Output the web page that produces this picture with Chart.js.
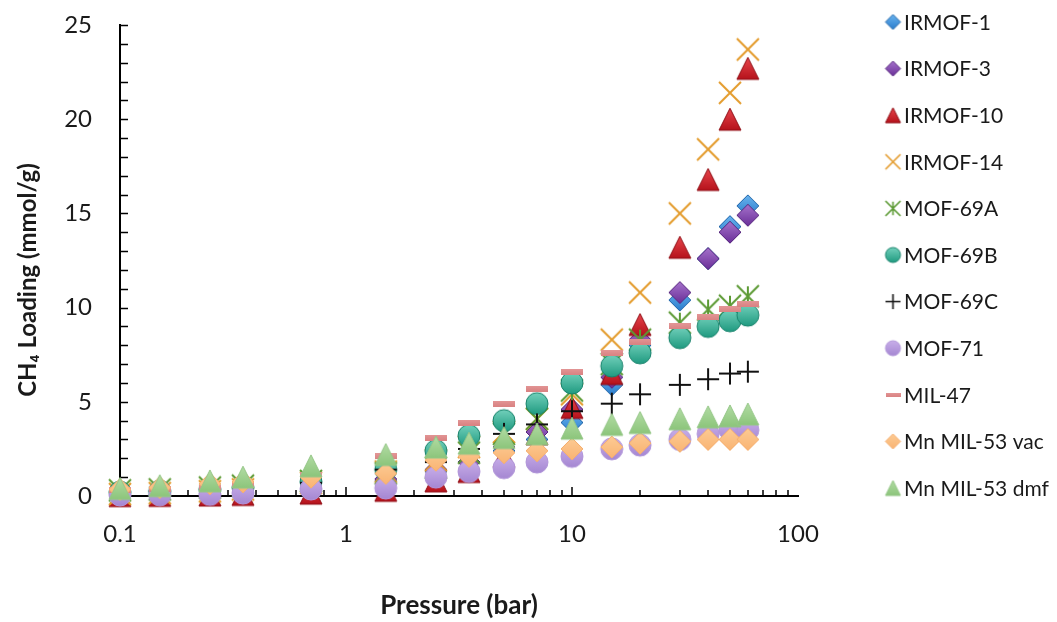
<!DOCTYPE html>
<html>
<head>
<meta charset="utf-8">
<title>CH4 loading vs pressure</title>
<script src="https://cdn.jsdelivr.net/npm/chart.js@4.4.1/dist/chart.umd.min.js"></script>
<style>
  html, body { margin: 0; padding: 0; background: #fff; }
  #wrap { width: 1057px; height: 622px; }
</style>
</head>
<body>
<div id="wrap"><canvas id="isotherms" width="1057" height="622"></canvas></div>
<script>
// pressure points (bar), shared by every material
const pressure = [0.1, 0.15, 0.25, 0.35, 0.7, 1.5, 2.5, 3.5, 5, 7, 10, 15, 20, 30, 40, 50, 60];

// CH4 loading (mmol/g) for each material
const irmof1   = [0.05, 0.08, 0.12, 0.17, 0.35, 0.8, 1.3, 1.8, 2.4, 3.0, 3.9, 5.9, 8.0, 10.4, 12.6, 14.3, 15.4];
const irmof3   = [0.05, 0.08, 0.12, 0.17, 0.4, 0.9, 1.4, 1.8, 2.6, 3.4, 4.6, 6.3, 8.3, 10.8, 12.6, 14.0, 14.9];
const irmof10  = [0.02, 0.03, 0.05, 0.08, 0.15, 0.3, 0.8, 1.3, 2.1, 3.3, 4.7, 6.5, 9.1, 13.2, 16.8, 20.0, 22.7];
const irmof14  = [0.1, 0.15, 0.25, 0.35, 0.7, 1.3, 1.9, 2.6, 3.4, 4.1, 5.4, 8.3, 10.8, 15.0, 18.4, 21.4, 23.7];
const mof69a   = [0.3, 0.35, 0.45, 0.55, 0.8, 1.2, 1.5, 2.3, 3.3, 4.1, 5.6, 7.0, 8.3, 9.2, 9.9, 10.1, 10.6];
const mof69b   = [0.2, 0.25, 0.35, 0.45, 0.75, 1.4, 2.4, 3.2, 4.0, 4.9, 6.0, 6.9, 7.6, 8.4, 9.0, 9.3, 9.6];
const mof69c   = [0.2, 0.25, 0.35, 0.45, 0.7, 1.4, 1.8, 2.5, 3.3, 3.8, 4.5, 4.9, 5.4, 5.9, 6.2, 6.5, 6.6];
const mof71    = [0.05, 0.06, 0.08, 0.15, 0.37, 0.42, 1.0, 1.3, 1.5, 1.8, 2.1, 2.5, 2.7, 3.0, 3.3, 3.5, 3.5];
const mil47    = [0.3, 0.35, 0.45, 0.6, 1.1, 2.1, 3.1, 3.9, 4.9, 5.7, 6.6, 7.6, 8.2, 9.0, 9.5, 9.9, 10.2];
const mil53vac = [0.35, 0.45, 0.65, 0.75, 1.0, 1.2, 1.9, 2.1, 2.3, 2.4, 2.5, 2.6, 2.8, 2.9, 3.0, 3.0, 3.0];
const mil53dmf = [0.4, 0.55, 0.8, 1.0, 1.6, 2.2, 2.6, 2.8, 3.1, 3.3, 3.6, 3.8, 3.9, 4.1, 4.2, 4.25, 4.35];

const seriesNames = ['IRMOF-1', 'IRMOF-3', 'IRMOF-10', 'IRMOF-14', 'MOF-69A', 'MOF-69B',
                     'MOF-69C', 'MOF-71', 'MIL-47', 'Mn MIL-53 vac', 'Mn MIL-53 dmf'];
const seriesValues = [irmof1, irmof3, irmof10, irmof14, mof69a, mof69b,
                      mof69c, mof71, mil47, mil53vac, mil53dmf];

// axis labels
const xTickValues = [0.1, 1, 10, 100];
const yTickStep = 5;
const xTitle = 'Pressure (bar)';
const yTitle = 'CH₄ Loading (mmol/g)';

const FONT = 'Lato, "Open Sans", sans-serif';

const markerStyles = [
  { shape: 'diamond',  fill: ['#6ab4ef', '#2a7ccc'], stroke: '#2266a8' },
  { shape: 'diamond',  fill: ['#a673cc', '#6a2f98'], stroke: '#56267e' },
  { shape: 'triangle', fill: ['#e8454c', '#b5121b'], stroke: '#8f0d14' },
  { shape: 'x',        stroke: '#e39b2c' },
  { shape: 'asterisk', stroke: '#5c9a34' },
  { shape: 'circle',   fill: ['#72d0bb', '#1f9a80'], stroke: '#18826b' },
  { shape: 'plus',     stroke: '#111111' },
  { shape: 'circle',   fill: ['#c8aee9', '#a587d2'], stroke: '#b196d9' },
  { shape: 'dash',     fill: ['#e39696', '#d98282'] },
  { shape: 'diamond',  fill: ['#fdcb94', '#f9b473'], stroke: '#f5ae6e' },
  { shape: 'triangle', fill: ['#b2dca4', '#8cc57b'], stroke: '#94c687' }
];

// draws an Excel-like marker on a small canvas, used as a point style image
function makeMarker(style, s) {
  const c = document.createElement('canvas');
  const pad = 2;
  const size = s + pad * 2;
  c.width = size;
  c.height = style.shape === 'dash' ? Math.round(s * 0.28) : size;
  const ctx = c.getContext('2d');
  const m = size / 2;
  const h = s / 2;

  if (style.shape === 'dash') {
    c.width = s;
    const g = ctx.createLinearGradient(0, 0, 0, c.height);
    g.addColorStop(0, style.fill[0]);
    g.addColorStop(1, style.fill[1]);
    ctx.fillStyle = g;
    ctx.fillRect(0, 0, c.width, c.height);
    return c;
  }

  ctx.lineJoin = 'round';
  if (style.fill) {
    ctx.beginPath();
    if (style.shape === 'diamond') {
      ctx.moveTo(m, m - h); ctx.lineTo(m + h, m); ctx.lineTo(m, m + h); ctx.lineTo(m - h, m);
      ctx.closePath();
    } else if (style.shape === 'triangle') {
      ctx.moveTo(m, m - h); ctx.lineTo(m + h, m + h); ctx.lineTo(m - h, m + h);
      ctx.closePath();
    } else {
      ctx.arc(m, m, h, 0, Math.PI * 2);
    }
    const g = ctx.createLinearGradient(0, m - h, 0, m + h);
    g.addColorStop(0, style.fill[0]);
    g.addColorStop(1, style.fill[1]);
    ctx.fillStyle = g;
    ctx.fill();
    ctx.lineWidth = 1;
    ctx.strokeStyle = style.stroke;
    ctx.stroke();
  } else {
    ctx.strokeStyle = style.stroke;
    ctx.lineWidth = s > 18 ? 2 : 1.6;
    ctx.lineCap = 'butt';
    ctx.beginPath();
    if (style.shape === 'x' || style.shape === 'asterisk') {
      ctx.moveTo(m - h, m - h); ctx.lineTo(m + h, m + h);
      ctx.moveTo(m + h, m - h); ctx.lineTo(m - h, m + h);
    }
    if (style.shape === 'asterisk') {
      ctx.moveTo(m, m - h * 0.9); ctx.lineTo(m, m + h * 0.9);
    }
    if (style.shape === 'plus') {
      ctx.moveTo(m - h, m); ctx.lineTo(m + h, m);
      ctx.moveTo(m, m - h); ctx.lineTo(m, m + h);
    }
    ctx.stroke();
  }
  return c;
}

const pointImages = markerStyles.map(st => makeMarker(st, 22));
const legendImages = markerStyles.map(st => makeMarker(st, 15));

const datasets = seriesNames.map((name, i) => ({
  label: name,
  data: pressure.map((p, k) => ({ x: p, y: seriesValues[i][k] })),
  pointStyle: pointImages[i],
  showLine: false,
  clip: false,
  order: -i   // later series sit on top
}));

// inward tick marks on both axes
const innerTicks = {
  id: 'innerTicks',
  beforeDatasetsDraw(chart) {
    const { ctx, chartArea, scales } = chart;
    ctx.save();
    ctx.strokeStyle = '#000';
    ctx.lineWidth = 1.5;
    ctx.beginPath();
    for (let v = 0; v <= 25; v++) {
      const y = Math.round(scales.y.getPixelForValue(v)) + 0.5;
      ctx.moveTo(chartArea.left, y);
      ctx.lineTo(chartArea.left + 8, y);
    }
    [0.1, 1, 10].forEach(d => {
      for (let k = 1; k <= 10; k++) {
        if (d === 10 && k === 10) continue;
        const x = Math.round(scales.x.getPixelForValue(d * k));
        const len = (k === 1 || k === 10) ? 9 : 6;
        ctx.moveTo(x, chartArea.bottom);
        ctx.lineTo(x, chartArea.bottom - len);
      }
    });
    ctx.stroke();
    ctx.restore();
  }
};

// rotated y title, sitting a little below the middle of the axis
const yAxisTitle = {
  id: 'yAxisTitle',
  afterDraw(chart) {
    const { ctx } = chart;
    ctx.save();
    ctx.translate(28, 280);
    ctx.rotate(-Math.PI / 2);
    ctx.font = 'bold 24px ' + FONT;
    ctx.fillStyle = '#1a1a1a';
    ctx.textAlign = 'center';
    ctx.textBaseline = 'middle';
    ctx.fillText(yTitle, 0, 0);
    ctx.restore();
  }
};

// legend column on the right
const sideLegend = {
  id: 'sideLegend',
  afterDraw(chart) {
    const { ctx } = chart;
    ctx.save();
    ctx.font = '21px ' + FONT;
    ctx.fillStyle = '#1a1a1a';
    ctx.textBaseline = 'middle';
    seriesNames.forEach((name, i) => {
      const y = 22 + i * 46.6;
      const img = legendImages[i];
      ctx.drawImage(img, 893 - img.width / 2, y - img.height / 2);
      ctx.fillText(name, 904, y + 1);
    });
    ctx.restore();
  }
};

Chart.defaults.font.family = FONT;
Chart.defaults.color = '#1a1a1a';

new Chart(document.getElementById('isotherms'), {
  type: 'scatter',
  data: { datasets },
  options: {
    responsive: false,
    animation: false,
    events: [],
    layout: { padding: { left: 0, top: 25, right: 259, bottom: 0 } },
    plugins: { legend: { display: false }, tooltip: { enabled: false } },
    scales: {
      x: {
        type: 'logarithmic',
        min: 0.1,
        max: 100,
        grid: { display: false, drawTicks: false },
        border: { display: true, color: '#000', width: 2 },
        afterBuildTicks: scale => { scale.ticks = xTickValues.map(v => ({ value: v })); },
        afterFit: scale => { scale.height = 126; },
        ticks: {
          autoSkip: false,
          maxRotation: 0,
          padding: 24,
          font: { size: 24 },
          callback: v => String(v)
        },
        title: {
          display: true,
          text: xTitle,
          font: { size: 26, weight: 'bold' },
          padding: { top: 0, bottom: 1 }
        }
      },
      y: {
        min: 0,
        max: 25,
        // invisible outer ticks only keep the labels clear of the axis
        grid: { display: true, drawOnChartArea: false, drawTicks: true, tickLength: 28, tickColor: 'rgba(0,0,0,0)' },
        border: { display: true, color: '#000', width: 2 },
        afterFit: scale => { scale.width = 120; },
        ticks: {
          stepSize: yTickStep,
          padding: 0,
          font: { size: 24 }
        }
      }
    }
  },
  plugins: [innerTicks, yAxisTitle, sideLegend]
});
</script>
</body>
</html>
